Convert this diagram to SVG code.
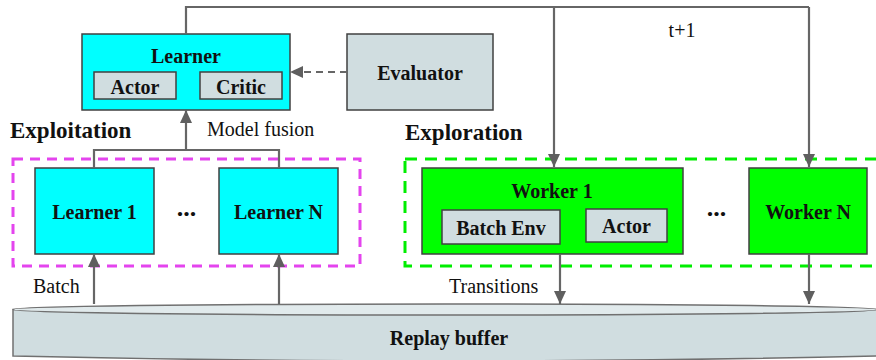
<svg xmlns="http://www.w3.org/2000/svg" width="876" height="360" viewBox="0 0 876 360">
<defs>
<marker id="ah" markerUnits="userSpaceOnUse" markerWidth="13" markerHeight="12" viewBox="0 0 13 12" refX="13" refY="6" orient="auto">
<path d="M0,0 L13,6 L0,12 Z" fill="#5f5f5f"/>
</marker>
</defs>
<style>
.b{font-family:"Liberation Serif","Times New Roman",serif;font-weight:bold;font-size:20px;fill:#111;text-anchor:middle}
.d{font-family:"Liberation Serif","Times New Roman",serif;font-weight:bold;font-size:26px;fill:#111;text-anchor:middle}
.r{font-family:"Liberation Serif","Times New Roman",serif;font-size:20px;fill:#111}
.h{font-family:"Liberation Serif","Times New Roman",serif;font-weight:bold;font-size:23px;fill:#111}
.cy{fill:#00ffff;stroke:#404040;stroke-width:1.5}
.gr{fill:#00ff00;stroke:#404040;stroke-width:1.5}
.gy{fill:#d0dde0;stroke:#404040;stroke-width:1.5}
.c{fill:none;stroke:#666;stroke-width:2.2}
</style>
<rect width="876" height="360" fill="#fff"/>
<g id="replay">
<path d="M13,309.5 L13,356 Q445,366 877,356 L877,309.5 Z" fill="#d0dde0" stroke="#707070" stroke-width="1.5"/>
<ellipse cx="445" cy="309.5" rx="432" ry="5.5" fill="#e1eaec" stroke="#707070" stroke-width="1.5"/>
<text class="b" x="449" y="345">Replay buffer</text>
</g>
<rect x="13" y="159" width="347" height="107" fill="none" stroke="#e444ee" stroke-width="3" stroke-dasharray="10 7"/>
<rect x="405" y="159" width="480" height="107" fill="none" stroke="#00ee00" stroke-width="3" stroke-dasharray="12 8"/>
<text class="h" x="10" y="138">Exploitation</text>
<text class="h" x="405" y="140">Exploration</text>
<g id="learner">
<rect class="cy" x="82" y="34" width="208" height="76"/>
<text class="b" x="186" y="63">Learner</text>
<rect class="gy" x="94" y="72" width="82" height="27"/>
<text class="b" x="135" y="94">Actor</text>
<rect class="gy" x="200" y="72" width="82" height="27"/>
<text class="b" x="241" y="94">Critic</text>
</g>
<g id="evaluator">
<rect class="gy" x="347" y="34" width="146" height="76"/>
<text class="b" x="420" y="80">Evaluator</text>
</g>
<g id="learner1">
<rect class="cy" x="35" y="168" width="119" height="86"/>
<text class="b" x="94.5" y="219">Learner 1</text>
</g>
<text class="d" x="186.5" y="216">...</text>
<g id="learnerN">
<rect class="cy" x="219" y="168" width="119" height="86"/>
<text class="b" x="278.5" y="219">Learner N</text>
</g>
<g id="worker1">
<rect class="gr" x="422" y="168" width="261" height="86"/>
<text class="b" x="552" y="198">Worker 1</text>
<rect class="gy" x="442" y="210" width="118" height="34"/>
<text class="b" x="501" y="235">Batch Env</text>
<rect class="gy" x="586" y="209" width="81" height="33"/>
<text class="b" x="626.5" y="233">Actor</text>
</g>
<text class="d" x="716.5" y="216">...</text>
<g id="workerN">
<rect class="gr" x="749" y="168" width="118" height="86"/>
<text class="b" x="808" y="219">Worker N</text>
</g>
<g id="connectors">
<path class="c" d="M347,72 L290,72" stroke-dasharray="7 5" marker-end="url(#ah)"/>
<path class="c" d="M186,34 L186,7 L809,7"/>
<path class="c" d="M554,7 L554,167" marker-end="url(#ah)"/>
<path class="c" d="M809,7 L809,167" marker-end="url(#ah)"/>
<path class="c" d="M94,168 L94,150 L279,150 L279,168"/>
<path class="c" d="M186,150 L186,110" marker-end="url(#ah)"/>
<path class="c" d="M94,304 L94,254" marker-end="url(#ah)"/>
<path class="c" d="M279,304 L279,254" marker-end="url(#ah)"/>
<path class="c" d="M560,254 L560,304" marker-end="url(#ah)"/>
<path class="c" d="M809,254 L809,304" marker-end="url(#ah)"/>
<text class="r" x="207" y="136">Model fusion</text>
<text class="r" x="682" y="37" text-anchor="middle">t+1</text>
<text class="r" x="33" y="293">Batch</text>
<text class="r" x="449" y="293">Transitions</text>
</g>
</svg>
